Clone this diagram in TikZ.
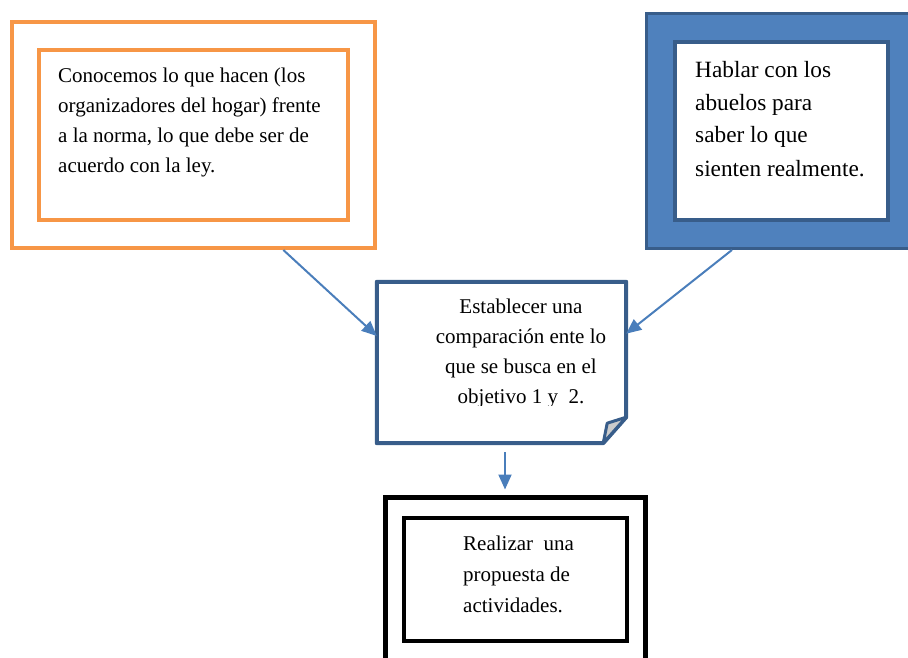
\documentclass[tikz,border=0pt]{standalone}
\usepackage{fontspec}
\setmainfont{Liberation Serif}
\usetikzlibrary{arrows.meta}
\definecolor{naranja}{HTML}{F79646}
\definecolor{azul}{HTML}{4F81BD}
\definecolor{azuloscuro}{HTML}{385D8A}
\definecolor{flechaazul}{HTML}{4A7EBB}
\begin{document}
\begin{tikzpicture}[x=1pt,y=-1pt,
    marco/.style={draw,rectangle,inner sep=0pt},
    texto/.style={font=\fontsize{21}{30}\selectfont,inner sep=0pt,anchor=base west,align=left},
    flecha/.style={draw=flechaazul,line width=2pt,-{Triangle[length=15pt,width=13pt]}}]
  \clip (0,0) rectangle (908,658);
  \draw
    (193.5,135) node[marco,draw=naranja,line width=4pt,minimum width=363pt,minimum height=226pt] (normaout){}
    (193.5,135) node[marco,draw=naranja,line width=4pt,minimum width=309pt,minimum height=170pt] (norma){}
    (780,131) node[marco,draw=azuloscuro,fill=azul,line width=3pt,minimum width=267pt,minimum height=235pt] (abuelosout){}
    (781.5,131) node[marco,draw=azuloscuro,fill=white,line width=4pt,minimum width=213pt,minimum height=178pt] (abuelos){}
    (501.5,362.5) node[rectangle,inner sep=0pt,minimum width=249pt,minimum height=161pt] (comparar){}
    (515.5,585) node[marco,line width=5pt,minimum width=260pt,minimum height=175pt] (propuestaout){}
    (515.5,579.5) node[marco,line width=4.5pt,minimum width=223pt,minimum height=123pt] (propuesta){};
  % hoja con la esquina doblada
  \draw[azuloscuro,line width=4pt,line join=round]
    (comparar.north west) -- (comparar.north east) -- ([yshift=26pt]comparar.south east)
    -- ([xshift=-23pt]comparar.south east) -- (comparar.south west) -- cycle;
  \draw[azuloscuro,fill=black!20,line width=3pt,line join=round]
    ([yshift=26pt]comparar.south east) -- ([xshift=-19pt,yshift=20pt]comparar.south east)
    -- ([xshift=-23pt]comparar.south east) -- cycle;
  % textos (el ancla base queda en la ultima linea)
  \node[texto] (normatxt) at (58,173) {Conocemos lo que hacen (los\\organizadores del hogar) frente\\a la norma, lo que debe ser de\\acuerdo con la ley.};
  \node[texto,font=\fontsize{23.3}{33}\selectfont] (abuelostxt) at (695,176) {Hablar con los\\abuelos para\\saber lo que\\sienten realmente.};
  \begin{scope}
    \clip (377,282) rectangle (626,405);
    \node[texto,anchor=base,align=center] (comparartxt) at (521,403) {Establecer una\\comparación ente lo\\que se busca en el\\objetivo 1 y\ \ 2.};
  \end{scope}
  \node[texto,font=\fontsize{21}{31}\selectfont] (propuestatxt) at (463,612) {Realizar\ \ una\\propuesta de\\actividades.};
  % flechas
  \draw[flecha] (normaout.-52) to[shorten >=9pt] (comparar.168);
  \draw[flecha] (abuelosout.-112) to[shorten >=5pt] (comparar.13.3);
  \draw[flecha,shorten <=9pt,shorten >=5.5pt] ([xshift=3.5pt]comparar.south) -- ([xshift=-10.5pt]propuestaout.north);
\end{tikzpicture}
\end{document}
